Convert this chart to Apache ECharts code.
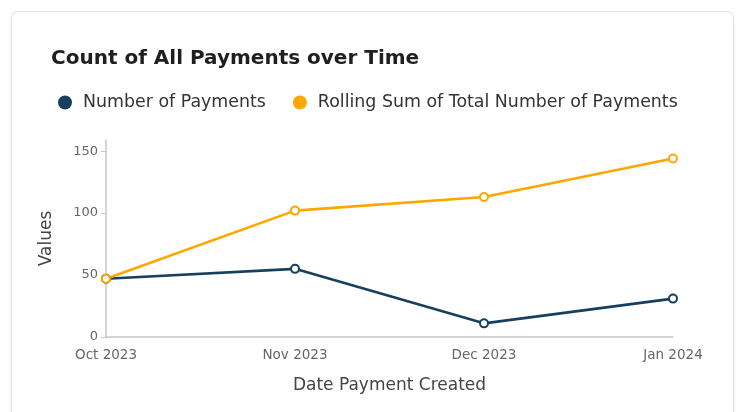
<!DOCTYPE html>
<html lang="en">
<head>
<meta charset="UTF-8">
<title>Count of All Payments over Time</title>
<style>
        html, body { margin: 0; padding: 0; background: #ffffff; }
        .card {
                position: absolute; left: 11px; top: 11px; width: 721px; height: 420px;
                border: 1px solid #e2e2e2; border-radius: 7px;
                box-shadow: 0 1px 3px rgba(0,0,0,0.08); background: #fff;
        }
        #chart { position: absolute; left: 0; top: 0; width: 738px; height: 412px; }
</style>
</head>
<body>
<div class="card"></div>
<div id="chart"></div>
<script src="https://cdn.jsdelivr.net/npm/echarts@6/dist/echarts.min.js"></script>
<script>
var months = ['Oct 2023', 'Nov 2023', 'Dec 2023', 'Jan 2024'];
var numPayments = [47, 55, 11, 31];
var rollingSum = [47, 102, 113, 144];
var yTicks = [0, 50, 100, 150];

var navy = '#17405f';
var orange = '#ffa600';
var font = 'DejaVu Sans';

var myChart = echarts.init(document.getElementById('chart'));

var option = {
        backgroundColor: 'transparent',
        animation: false,
        textStyle: { fontFamily: font },
        title: {
                text: 'Count of All Payments over Time',
                left: 46, top: 44,
                textStyle: { fontFamily: font, fontSize: 20, fontWeight: 'bold', color: '#1f1f1f' }
        },
        legend: {
                left: 53, top: 89,
                icon: 'circle', itemWidth: 14, itemHeight: 14, itemGap: 27,
                textStyle: { fontFamily: font, fontSize: 17.4, color: '#333', padding: [0, 0, 0, 6] },
                data: ['Number of Payments', 'Rolling Sum of Total Number of Payments']
        },
        grid: { left: 106, right: 65, top: 140, bottom: 75 },
        xAxis: {
                type: 'category',
                data: months,
                boundaryGap: false,
                name: 'Date Payment Created',
                nameLocation: 'middle',
                nameGap: 40,
                nameTextStyle: { fontSize: 17, color: '#444' },
                axisLine: { lineStyle: { color: '#c8c8c8', width: 1.5 } },
                axisTick: { show: false },
                axisLabel: { fontSize: 13.5, color: '#666', margin: 11 }
        },
        yAxis: {
                type: 'value',
                min: 0, max: 159,
                name: 'Values',
                nameLocation: 'middle',
                nameGap: 51,
                nameTextStyle: { fontSize: 17, color: '#444' },
                splitLine: { show: false },
                axisLine: { show: true, lineStyle: { color: '#c8c8c8', width: 1.5 } },
                axisTick: { show: true, length: 5, customValues: yTicks, lineStyle: { color: '#c8c8c8' } },
                axisLabel: { fontSize: 13, color: '#666', margin: 8, customValues: yTicks }
        },
        series: [{
                name: 'Number of Payments',
                type: 'line',
                data: numPayments,
                color: navy,
                symbol: 'emptyCircle',
                symbolSize: 8,
                lineStyle: { width: 2.6, color: navy },
                itemStyle: { color: navy, borderWidth: 2 }
        }, {
                name: 'Rolling Sum of Total Number of Payments',
                type: 'line',
                data: rollingSum,
                color: orange,
                symbol: 'emptyCircle',
                symbolSize: 8,
                lineStyle: { width: 2.6, color: orange },
                itemStyle: { color: orange, borderWidth: 2 }
        }]
};

myChart.setOption(option);
</script>
</body>
</html>
